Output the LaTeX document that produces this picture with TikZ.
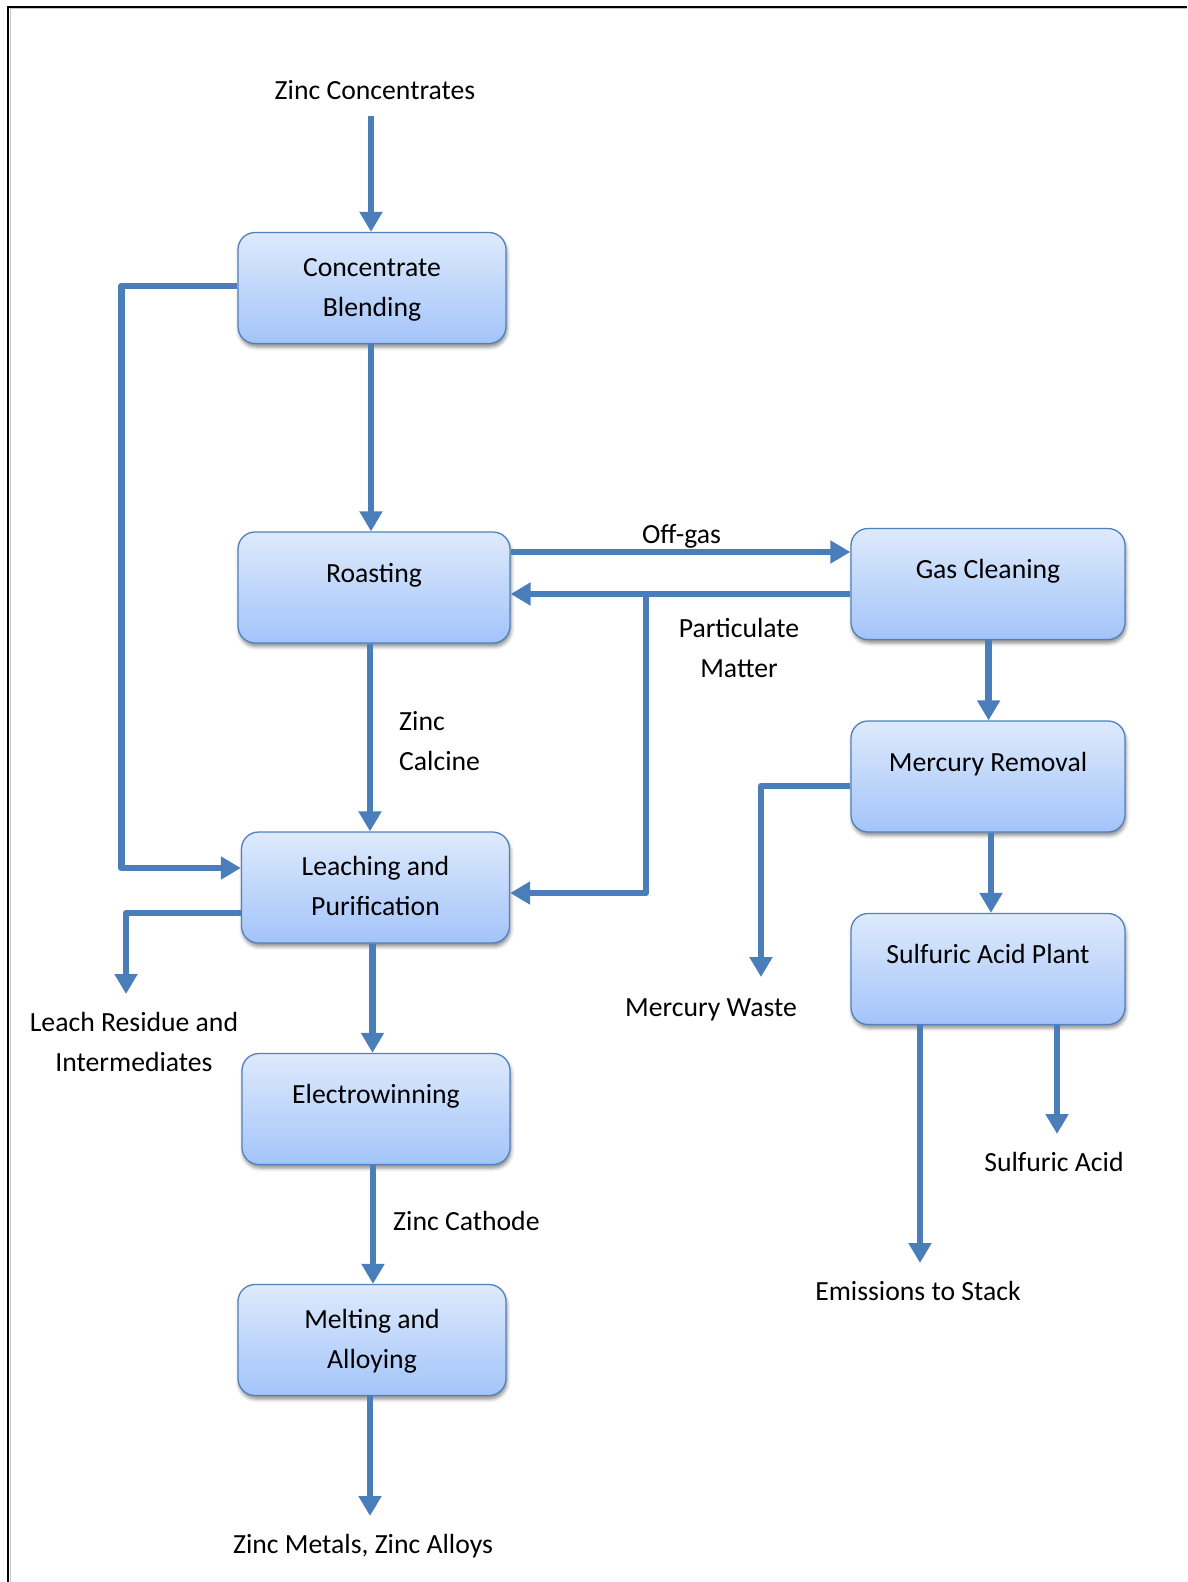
\documentclass[tikz,border=0pt]{standalone}
\usepackage{fontspec}
\setmainfont{Carlito}
\usetikzlibrary{arrows.meta,shadows.blur}
\definecolor{flow}{RGB}{74,126,187}
\definecolor{bordc}{RGB}{79,129,189}
\definecolor{btop}{RGB}{222,234,252}
\definecolor{bbot}{RGB}{163,196,250}
\begin{document}
\begin{tikzpicture}[x=1pt,y=-1pt,
  font=\fontsize{27.7}{40}\selectfont,
  box/.style={draw=bordc,line width=1.3pt,rounded corners=17pt,
    top color=btop,bottom color=bbot,
    minimum width=268pt,minimum height=111pt,inner sep=0pt,
    blur shadow={shadow xshift=1pt,shadow yshift=-3.5pt,shadow blur radius=3.5pt,shadow opacity=45}},
  one/.style={text height=28pt,text depth=39pt},
  two/.style={align=center},
  lbl/.style={inner sep=0pt},
  flowline/.style={draw=flow,line width=6.8pt,line join=round},
  arr/.style={flowline,-{Triangle[length=20pt,width=22pt]}},
]
\useasboundingbox (0,0) rectangle (1187,1582);
% frame
\draw[black!22,line width=1pt] (10.3,1582) -- (10.3,8.6) -- (1187,8.6);
\draw[black,line width=2pt] (8.3,1582) -- (8.3,6.5) -- (1187,6.5);

% boxes
\node[box,two] (cb) at (372,288) {\strut Concentrate\\\strut Blending};
\node[box,one,minimum width=272pt] (roast) at (374,587.5) {Roasting};
\node[box,two] (leach) at (375.5,887.5) {\strut Leaching and\\\strut Purification};
\node[box,one] (ew) at (376,1109) {Electrowinning};
\node[box,two] (melt) at (372,1340) {\strut Melting and\\\strut Alloying};
\node[box,one,minimum width=274pt] (gc) at (988,584) {Gas Cleaning};
\node[box,one,minimum width=274pt] (mr) at (988,776.5) {Mercury Removal};
\node[box,one,minimum width=274pt] (sap) at (988,969) {Sulfuric Acid Plant};

% labels
\node[lbl,anchor=base] (zc) at (375,99) {Zinc Concentrates};
\node[lbl,anchor=base] (og) at (681.5,543) {Off-gas};
\node[lbl,align=center,anchor=north] (pm) at (739,609.5) {\strut Particulate\\\strut Matter};
\node[lbl,align=left,anchor=north west] (zcal) at (399,702) {\strut Zinc\\\strut Calcine};
\node[lbl,align=center,anchor=north] (lr) at (134,1003) {\strut Leach Residue and\\\strut Intermediates};
\node[lbl,anchor=base] (mw) at (711,1016) {Mercury Waste};
\node[lbl,anchor=base west] (zcat) at (393,1230.5) {Zinc Cathode};
\node[lbl,anchor=base] (sa) at (1054,1171) {Sulfuric Acid};
\node[lbl,anchor=base] (es) at (918,1300) {Emissions to Stack};
\node[lbl,anchor=base] (zm) at (363,1553) {Zinc Metals, Zinc Alloys};

% free ends
\coordinate (zcA) at (371,116);
\coordinate (jn) at (646,594);
\coordinate (lrA) at (126,994);
\coordinate (zmA) at (370,1516);
\coordinate (mwA) at (761,977);
\coordinate (esA) at (920,1263);
\coordinate (saA) at (1057,1134);

% connectors
\draw[arr] (zcA) -- (zcA |- cb.north);
\draw[arr] ([xshift=-1pt]cb.south) -- ([xshift=-3pt]roast.north);
\draw[arr] ([yshift=2pt]cb.west) -- ++(-116,0) |- ([yshift=19.5pt]leach.west);
\draw[arr] ([xshift=-4pt]roast.south) -- ([xshift=-5.5pt]leach.north);
\draw[arr] ([yshift=35.5pt]roast.east) -- ([yshift=32pt]gc.west);
\draw[arr] ([yshift=-10pt]gc.west) -- ([yshift=-6.5pt]roast.east);
\draw[arr] (jn) |- ([yshift=-5.5pt]leach.east);
\draw[arr] ([yshift=-25.5pt]leach.west) -| (lrA);
\draw[arr] ([xshift=-3pt]leach.south) -- ([xshift=-3.5pt]ew.north);
\draw[arr] ([xshift=-3pt]ew.south) -- ([xshift=1pt]melt.north);
\draw[arr] ([xshift=-2pt]melt.south) -- (zmA);
\draw[arr] ([xshift=0.6pt]gc.south) -- ([xshift=0.6pt]mr.north);
\draw[arr] ([yshift=-9.5pt]mr.west) -| (mwA);
\draw[arr] ([xshift=3pt]mr.south) -- ([xshift=3pt]sap.north);
\draw[arr] (sap.south -| esA) -- (esA);
\draw[arr] (sap.south -| saA) -- (saA);
\end{tikzpicture}
\end{document}
